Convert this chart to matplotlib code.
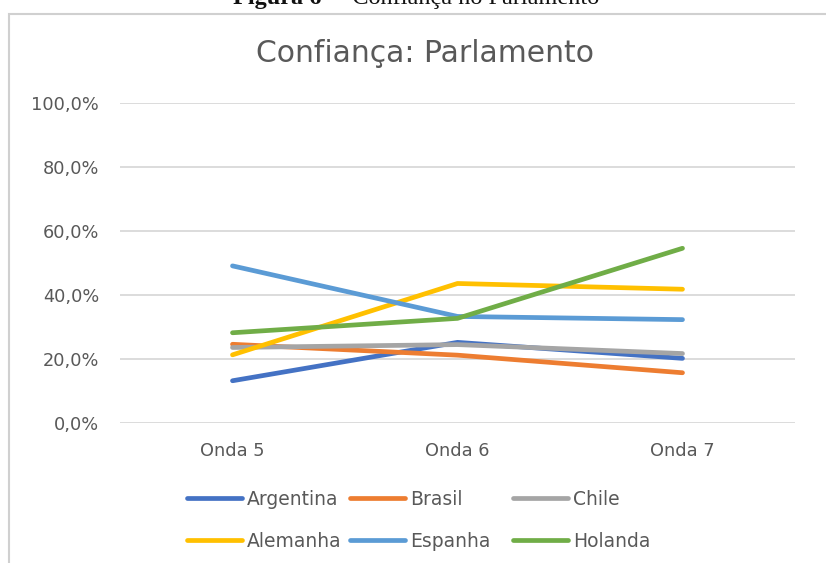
import matplotlib.pyplot as plt
from matplotlib.patches import Rectangle
from matplotlib.ticker import FuncFormatter

# dados (proporcao)
ondas = ["Onda 5", "Onda 6", "Onda 7"]
argentina = [0.132, 0.252, 0.202]
brasil = [0.246, 0.212, 0.157]
chile = [0.236, 0.245, 0.217]
alemanha = [0.213, 0.436, 0.418]
espanha = [0.491, 0.333, 0.323]
holanda = [0.282, 0.327, 0.546]

series = [("Argentina", argentina, "#4472C4"),
          ("Brasil", brasil, "#ED7D31"),
          ("Chile", chile, "#A5A5A5"),
          ("Alemanha", alemanha, "#FFC000"),
          ("Espanha", espanha, "#5B9BD5"),
          ("Holanda", holanda, "#70AD47")]

plt.rcParams['font.family'] = ['DejaVu Sans']
W, H = 826, 563
fig = plt.figure(figsize=(W / 100, H / 100), dpi=100)

# moldura do grafico
fig.patches.append(Rectangle((9 / W, -0.01), 1.0, 1 - 14 / H + 0.01, transform=fig.transFigure,
                             fill=False, edgecolor="#d0d0d0", linewidth=1.5))

# titulo da figura (cortado no topo, como no original)
fig.text(233 / W, 1 - 4 / H, "Figura 6", family="Liberation Serif", weight="bold",
         fontsize=17.5, va="baseline", ha="left", color="#111111")
fig.text(334 / W, 1 - 4 / H, "– Confiança no Parlamento", family="Liberation Serif",
         fontsize=17.5, va="baseline", ha="left", color="#111111")

ax = fig.add_axes([120 / W, 1 - 423 / H, 675 / W, 320 / H])
x = range(len(ondas))
lines = {}
for nome, vals, cor in series:
    lines[nome], = ax.plot(x, vals, color=cor, linewidth=3.4, solid_capstyle="round", label=nome)

ax.set_xlim(-0.5, 2.5)
ax.set_ylim(0, 1)
ax.set_xticks(list(x))
ax.set_xticklabels(ondas)
ax.set_yticks([0, 0.2, 0.4, 0.6, 0.8, 1.0])
ax.yaxis.set_major_formatter(FuncFormatter(lambda v, p: f"{v * 100:.1f}%".replace(".", ",")))
ax.grid(axis="y", color="#d9d9d9", linewidth=1.3)
ax.set_axisbelow(True)
for s in ax.spines.values():
    s.set_visible(False)
ax.tick_params(length=0, labelsize=12.8, colors="#595959")
ax.tick_params(axis="y", pad=15)
ax.tick_params(axis="x", pad=14)

fig.text(425 / W, 1 - 54 / H, "Confiança: Parlamento", ha="center", va="center",
         fontsize=21.5, color="#595959")

# legenda: uma coluna de cada vez para acertar as posicoes
colunas = [(["Argentina", "Alemanha"], 187), (["Brasil", "Espanha"], 350), (["Chile", "Holanda"], 513)]
for nomes, x0 in colunas:
    leg = fig.legend([lines[n] for n in nomes], nomes, loc="center left",
                     bbox_to_anchor=(x0 / W, 1 - 520.5 / H), frameon=False, fontsize=13.5,
                     labelcolor="#595959", handlelength=2.95, handletextpad=0.25,
                     labelspacing=1.23, borderpad=0, borderaxespad=0)

fig.savefig("out.png", dpi=100)
